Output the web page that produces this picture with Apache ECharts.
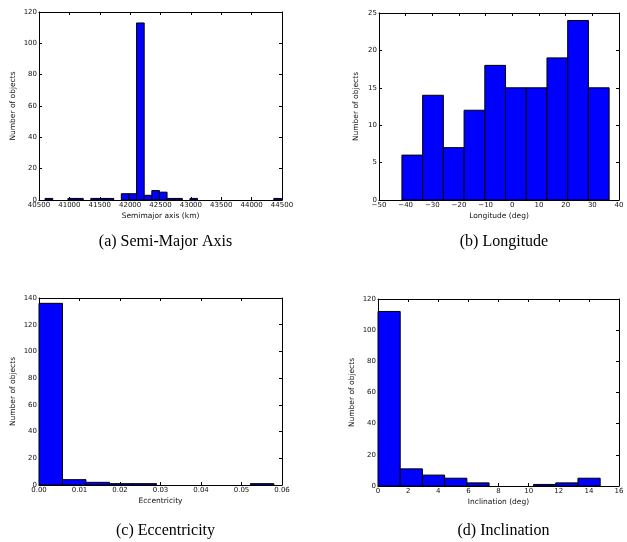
<!DOCTYPE html>
<html>
<head>
<meta charset="utf-8">
<script src="https://cdn.jsdelivr.net/npm/echarts@6/dist/echarts.min.js"></script>
<style>
  html, body { margin: 0; padding: 0; background: #fff; }
  #main { width: 627px; height: 542px; }
</style>
</head>
<body>
<div id="main"></div>
<script>
  // histogram bins: first edge, bin width, counts
  let semiStart = 40600, semiWidth = 125.5;
  let semiCounts = [1, 0, 0, 1, 1, 0, 1, 1, 1, 0, 4, 4, 113, 3, 6, 5, 1, 1, 0, 1,
    0, 0, 0, 0, 0, 0, 0, 0, 0, 0, 1];
  let lonStart = -41.4, lonWidth = 7.77;
  let lonCounts = [6, 14, 7, 12, 18, 15, 15, 19, 24, 15];
  let eccStart = 0, eccWidth = 0.0058;
  let eccCounts = [136, 4, 2, 1, 1, 0, 0, 0, 0, 1];
  let incStart = 0, incWidth = 1.475;
  let incCounts = [112, 11, 7, 5, 2, 0, 0, 1, 2, 5];

  let captions = ['(a) Semi-Major Axis', '(b) Longitude', '(c) Eccentricity', '(d) Inclination'];
  let xNames = ['Semimajor axis (km)', 'Longitude (deg)', 'Eccentricity', 'Inclination (deg)'];
  let xRanges = [[40500, 44500, 500], [-50, 40, 10], [0, 0.06, 0.01], [0, 16, 2]];
  let yRanges = [[0, 120, 20], [0, 25, 5], [0, 140, 20], [0, 120, 20]];

  function bins(start, width, counts) {
    return counts.map((c, i) => [start + i * width, start + (i + 1) * width, c]);
  }
  let hists = [
    bins(semiStart, semiWidth, semiCounts),
    bins(lonStart, lonWidth, lonCounts),
    bins(eccStart, eccWidth, eccCounts),
    bins(incStart, incWidth, incCounts)
  ];

  let grids = [
    { left: 39, top: 12, width: 243, height: 188 },
    { left: 379, top: 13, width: 240, height: 187 },
    { left: 39, top: 298, width: 243, height: 187 },
    { left: 378, top: 299, width: 241, height: 187 }
  ];
  let yNameGaps = [22, 19, 22, 22];

  let tickFont = { fontSize: 7, color: '#111', fontFamily: 'DejaVu Sans' };
  let nameFont = { fontSize: 7.5, color: '#111', fontFamily: 'DejaVu Sans' };
  let line = { show: true, onZero: false, lineStyle: { color: '#000', width: 1 } };
  let tick = { show: true, inside: true, length: 3, lineStyle: { color: '#000', width: 1 } };

  let xFormat = [
    v => String(v),
    v => String(v).replace('-', '\u2212'),
    v => v.toFixed(2),
    v => String(v)
  ];

  let xAxis = [], yAxis = [], series = [], title = [];
  grids.forEach((g, i) => {
    let xr = xRanges[i], yr = yRanges[i];
    xAxis.push({
      type: 'value', gridIndex: i, min: xr[0], max: xr[1], interval: xr[2],
      axisLine: line, axisTick: tick, splitLine: { show: false },
      axisLabel: Object.assign({ margin: 2, formatter: xFormat[i] }, tickFont),
      name: xNames[i], nameLocation: 'middle', nameGap: 12,
      nameTextStyle: nameFont
    });
    yAxis.push({
      type: 'value', gridIndex: i, min: yr[0], max: yr[1], interval: yr[2],
      axisLine: line, axisTick: tick, splitLine: { show: false },
      axisLabel: Object.assign({ margin: 2 }, tickFont),
      name: 'Number of objects', nameLocation: 'middle', nameGap: yNameGaps[i],
      nameTextStyle: nameFont
    });
    series.push({
      type: 'custom', xAxisIndex: i, yAxisIndex: i,
      data: hists[i], encode: { x: [0, 1], y: 2 },
      renderItem: function (params, api) {
        let h = api.value(2);
        if (!h) return null;
        let p0 = api.coord([api.value(0), h]);
        let p1 = api.coord([api.value(1), 0]);
        return {
          type: 'rect',
          shape: { x: p0[0], y: p0[1], width: p1[0] - p0[0], height: p1[1] - p0[1] },
          style: { fill: '#0000ff', stroke: '#000', lineWidth: 1 }
        };
      }
    });
    title.push({
      text: captions[i],
      left: g.left + g.width / 2, top: (i < 2 ? 229 : 518),
      textAlign: 'center',
      textStyle: { fontSize: 16, fontWeight: 'normal', color: '#000', fontFamily: 'Liberation Serif' }
    });
  });
  // mirrored top / right axes carry the inside ticks of the box
  grids.forEach((g, i) => {
    let xr = xRanges[i], yr = yRanges[i];
    xAxis.push({
      type: 'value', gridIndex: i, position: 'top', min: xr[0], max: xr[1], interval: xr[2],
      axisLine: line, axisTick: tick, axisLabel: { show: false }, splitLine: { show: false }
    });
    yAxis.push({
      type: 'value', gridIndex: i, position: 'right', min: yr[0], max: yr[1], interval: yr[2],
      axisLine: line, axisTick: tick, axisLabel: { show: false }, splitLine: { show: false }
    });
  });

  let chart = echarts.init(document.getElementById('main'));
  chart.setOption({
    backgroundColor: '#fff',
    animation: false,
    title: title,
    grid: grids,
    xAxis: xAxis,
    yAxis: yAxis,
    series: series
  });
</script>
</body>
</html>
